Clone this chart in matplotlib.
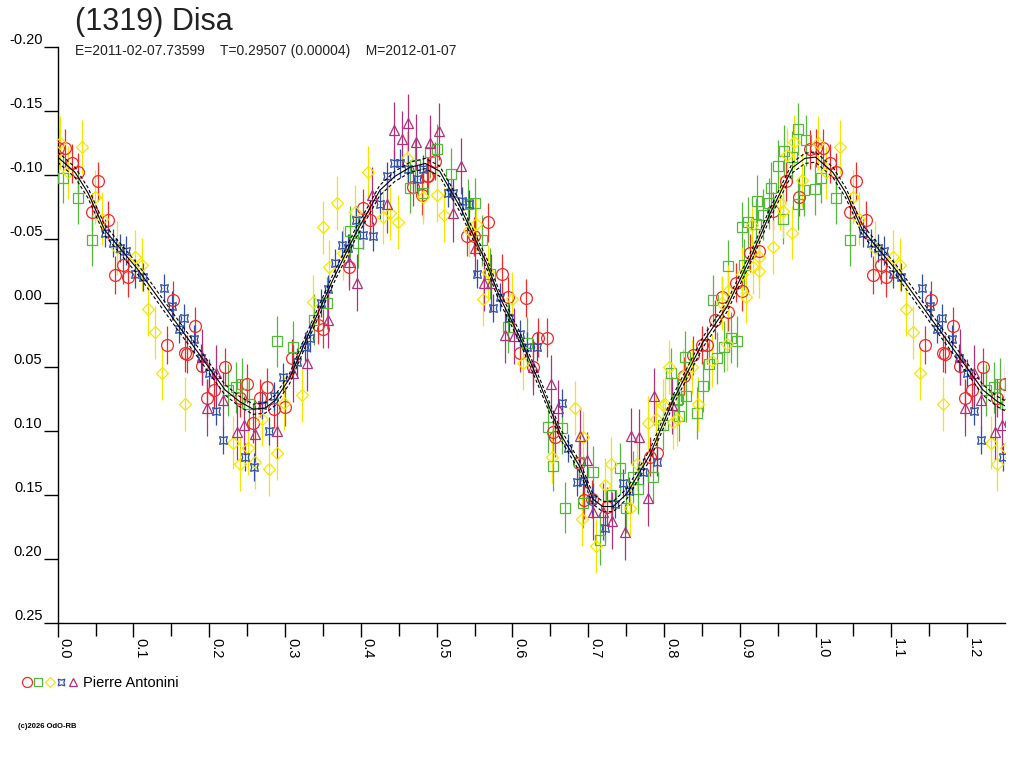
import numpy as np
import matplotlib
matplotlib.use("Agg")
import matplotlib.pyplot as plt
from matplotlib.legend_handler import HandlerTuple

plt.rcParams['font.family'] = ['Liberation Sans', 'DejaVu Sans']
plt.rcParams['axes.unicode_minus'] = False

# ---- data (phase, reduced magnitude) ----
red_phase = [0.000, 0.010, 0.019, 0.027, 0.053, 0.045, 0.066, 0.076, 0.086, 0.093, 0.152, 0.144, 0.168,
             0.181, 0.171, 0.190, 0.221, 0.206, 0.197, 0.240, 0.250, 0.267, 0.276, 0.285, 0.300, 0.258, 0.309,
             0.403, 0.412, 0.384, 0.469, 0.481, 0.487, 0.350, 0.343,
             0.498, 0.489, 0.568, 0.540, 0.549, 0.586, 0.618, 0.594, 0.634, 0.646, 0.610, 0.627,
             0.653, 0.656, 0.688, 0.694, 0.705, 0.725, 0.781, 0.791,
             0.993, 0.961, 0.978, 0.944, 0.925, 0.913, 0.895, 0.903, 0.876, 0.884, 0.867, 0.850, 0.857, 0.838, 0.826]
red_mag = [-0.121, -0.121, -0.109, -0.102, -0.095, -0.071, -0.065, -0.022, -0.030, -0.020, -0.002, 0.033, 0.039,
           0.018, 0.040, 0.049, 0.050, 0.068, 0.074, 0.074, 0.063, 0.074, 0.066, 0.083, 0.081, 0.094, 0.043,
           -0.074, -0.065, -0.028, -0.091, -0.084, -0.099, 0.020, 0.017,
           -0.111, -0.099, -0.063, -0.052, -0.052, -0.023, -0.004, -0.005, 0.027, 0.027, 0.039, 0.050,
           0.101, 0.105, 0.125, 0.154, 0.153, 0.159, 0.120, 0.117,
           -0.120, -0.095, -0.083, -0.072, -0.041, -0.039, -0.016, -0.009, -0.005, 0.007, 0.013, 0.033, 0.033, 0.041, 0.057]

green_phase = [0.007, 0.027, 0.045,
               0.225, 0.235, 0.243, 0.253, 0.289, 0.310,
               0.386, 0.465, 0.471, 0.491, 0.355, 0.338, 0.396,
               0.500, 0.519, 0.482, 0.550, 0.541, 0.560, 0.570, 0.594, 0.619,
               0.647, 0.665, 0.653, 0.670, 0.688, 0.706, 0.693, 0.715, 0.742, 0.730, 0.750, 0.759, 0.766,
               0.785, 0.799, 0.809, 0.817,
               0.977, 0.987, 0.958, 0.950, 0.969, 0.941, 0.999, 0.923, 0.977, 0.938, 0.931, 0.957, 0.903,
               0.911, 0.921, 0.905, 0.884, 0.865, 0.888, 0.897, 0.879, 0.870, 0.860, 0.828, 0.851, 0.829,
               0.818, 0.820, 0.843, 0.985]
green_mag = [-0.098, -0.082, -0.049,
             0.068, 0.066, 0.063, 0.079, 0.030, 0.034,
             -0.056, -0.090, -0.108, -0.118, 0.000, 0.013, -0.047,
             -0.120, -0.101, -0.086, -0.078, -0.077, -0.049, -0.023, 0.019, 0.031,
             0.097, 0.098, 0.127, 0.160, 0.124, 0.132, 0.156, 0.185, 0.129, 0.150, 0.160, 0.136, 0.145,
             0.136, 0.095, 0.055, 0.076,
             -0.136, -0.127, -0.119, -0.107, -0.114, -0.090, -0.089, -0.080, -0.077, -0.078, -0.069, -0.066, -0.059,
             -0.063, -0.062, -0.030, -0.029, -0.002, 0.027, 0.030, 0.034, 0.043, 0.048, 0.042, 0.065, 0.073,
             0.075, 0.088, 0.086, -0.088]

yellow_phase = [0.003, 0.032, 0.014, 0.049, 0.058, 0.078, 0.102, 0.111, 0.119, 0.128, 0.138, 0.168,
                0.231, 0.251, 0.240, 0.260, 0.279, 0.289, 0.270, 0.298, 0.322,
                0.409, 0.368, 0.350, 0.392, 0.439, 0.449, 0.461, 0.429, 0.358, 0.376, 0.337, 0.482,
                0.500, 0.510, 0.543, 0.552, 0.568, 0.561, 0.599, 0.614,
                0.652, 0.682, 0.693, 0.692, 0.710, 0.722, 0.730, 0.755, 0.764, 0.779, 0.789, 0.806, 0.799, 0.817,
                0.971, 0.962, 0.982, 0.953, 0.957, 0.916, 0.969, 0.944, 0.925, 0.917, 0.926, 0.903, 0.908,
                0.884, 0.876, 0.883, 0.863, 0.837, 0.825, 0.845, 0.801, 0.812]
yellow_mag = [-0.125, -0.122, -0.102, -0.083, -0.066, -0.043, -0.036, -0.030, 0.005, 0.023, 0.055, 0.079,
              0.109, 0.113, 0.126, 0.124, 0.130, 0.117, 0.091, 0.078, 0.072,
              -0.102, -0.078, -0.059, -0.071, -0.070, -0.063, -0.113, -0.067, -0.028, -0.039, -0.001, -0.083,
              -0.084, -0.069, -0.057, -0.062, -0.024, -0.003, -0.003, 0.047,
              0.120, 0.082, 0.105, 0.169, 0.190, 0.142, 0.126, 0.160, 0.126, 0.094, 0.091, 0.050, 0.080, 0.091,
              -0.126, -0.116, -0.096, -0.078, -0.072, -0.061, -0.055, -0.044, -0.036, -0.028, -0.025, -0.023, -0.005,
              -0.009, 0.000, 0.032, 0.045, 0.050, 0.057, 0.079, 0.079, 0.093]

blue_phase = [0.063, 0.073, 0.082, 0.090, 0.102, 0.113, 0.140, 0.151, 0.160, 0.167,
              0.180, 0.189, 0.200, 0.209, 0.218, 0.247, 0.259, 0.270, 0.279, 0.285, 0.297, 0.316, 0.326,
              0.444, 0.452, 0.434, 0.425, 0.394, 0.403, 0.416, 0.375, 0.383, 0.366, 0.357, 0.347, 0.333,
              0.482, 0.462, 0.474,
              0.515, 0.521, 0.533, 0.543, 0.553, 0.583, 0.575, 0.595, 0.610, 0.619, 0.632,
              0.665, 0.673, 0.685, 0.693, 0.705, 0.722, 0.735, 0.746, 0.754, 0.772, 0.791]
blue_mag = [-0.055, -0.047, -0.043, -0.041, -0.023, -0.020, -0.012, 0.002, 0.020, 0.012,
            0.028, 0.043, 0.055, 0.084, 0.107, 0.120, 0.128, 0.080, 0.100, 0.073, 0.058, 0.046, 0.034,
            -0.109, -0.109, -0.099, -0.077, -0.065, -0.053, -0.052, -0.045, -0.043, -0.031, -0.011, 0.000, 0.027,
            -0.105, -0.105, -0.097,
            -0.086, -0.086, -0.080, -0.077, -0.023, -0.005, 0.004, 0.012, 0.024, 0.034, 0.034,
            0.078, 0.113, 0.140, 0.139, 0.154, 0.176, 0.157, 0.141, 0.147, 0.132, 0.124]

purple_phase = [0.190, 0.197, 0.209, 0.218, 0.237, 0.246, 0.260, 0.289, 0.310, 0.329,
                0.444, 0.462, 0.454, 0.473, 0.491, 0.415, 0.434, 0.384, 0.395, 0.357,
                0.503, 0.532, 0.521, 0.551, 0.563, 0.572, 0.590, 0.602, 0.627, 0.651,
                0.660, 0.689, 0.698, 0.706, 0.719, 0.731, 0.748, 0.757, 0.767, 0.779, 0.787, 0.811]
purple_mag = [0.042, 0.082, 0.055, 0.076, 0.101, 0.095, 0.102, 0.100, 0.055, 0.047,
              -0.135, -0.141, -0.128, -0.126, -0.125, -0.084, -0.077, -0.032, -0.016, 0.013,
              -0.134, -0.107, -0.070, -0.043, -0.016, -0.016, 0.025, 0.026, 0.050, 0.063,
              0.082, 0.104, 0.123, 0.163, 0.163, 0.170, 0.179, 0.104, 0.105, 0.152, 0.073, 0.080]

# typical error bar half-lengths per session
red_err, green_err, yellow_err, blue_err, purple_err = 0.015, 0.020, 0.021, 0.011, 0.022

# Fourier fit, with its uncertainty band
fit_phase = [0.000, 0.023, 0.040, 0.062, 0.106, 0.151, 0.188, 0.221, 0.240, 0.258, 0.274, 0.287, 0.306,
             0.329, 0.363, 0.392, 0.425, 0.445, 0.465, 0.485, 0.504, 0.531, 0.566, 0.583, 0.610, 0.636,
             0.663, 0.689, 0.706, 0.719, 0.733, 0.751, 0.781, 0.812, 0.851, 0.883, 0.917, 0.940, 0.970, 0.986]
fit_mag = [-0.114, -0.102, -0.086, -0.057, -0.026, 0.011, 0.041, 0.068, 0.077, 0.083, 0.082, 0.076, 0.059,
           0.027, -0.018, -0.053, -0.088, -0.099, -0.106, -0.109, -0.103, -0.075, -0.031, -0.005, 0.027, 0.063,
           0.102, 0.128, 0.153, 0.159, 0.159, 0.149, 0.119, 0.076, 0.031, 0.003, -0.039, -0.070, -0.106, -0.113]
fit_band = 0.004

title = "(1319) Disa"
subtitle = "E=2011-02-07.73599    T=0.29507 (0.00004)    M=2012-01-07"
observer = "Pierre Antonini"
xtick_vals = [0.0, 0.1, 0.2, 0.3, 0.4, 0.5, 0.6, 0.7, 0.8, 0.9, 1.0, 1.1, 1.2]
ytick_vals = [-0.20, -0.15, -0.10, -0.05, 0.00, 0.05, 0.10, 0.15, 0.20, 0.25]


def wrap(ph, mg, upto=0.26):
    # the chart repeats the start of the cycle beyond phase 1
    ph = np.asarray(ph)
    mg = np.asarray(mg)
    m = ph < upto
    return np.concatenate([ph, ph[m] + 1]), np.concatenate([mg, mg[m]])


fig = plt.figure(figsize=(10.24, 7.68), dpi=100)
ax = fig.add_axes([57.7 / 1024, 1 - 623 / 768, (1005 - 57.7) / 1024, (623 - 47) / 768])

series = [
    (red_phase, red_mag, red_err, '#f02828', 'o', 8.5),
    (green_phase, green_mag, green_err, '#55b83c', 's', 6.5),
    (yellow_phase, yellow_mag, yellow_err, '#f5e600', 'D', 6.0),
    (blue_phase, blue_mag, blue_err, '#2e4ea8', (4, 1, 45), 8.0),
    (purple_phase, purple_mag, purple_err, '#b0307a', '^', 7.5),
]

handles = []
for ph, mg, err, col, mk, ms in series:
    x, y = wrap(ph, mg)
    ax.errorbar(x, y, yerr=err, fmt='none', ecolor=col, elinewidth=0.9, zorder=2)
    h, = ax.plot(x, y, ls='none', marker=mk, ms=ms, mfc='none', mec=col, mew=0.9, zorder=3)
    handles.append(h)

fx, fy = wrap(fit_phase, fit_mag, upto=0.3)
ax.plot(fx, fy, color='black', lw=0.8, zorder=5)
ax.plot(fx, fy - fit_band, color='black', lw=0.8, ls=(0, (3, 2)), zorder=5)
ax.plot(fx, fy + fit_band, color='black', lw=0.8, ls=(0, (3, 2)), zorder=5)

ax.set_xlim(0, 1.25)
ax.set_ylim(0.25, -0.20)
ax.spines['top'].set_visible(False)
ax.spines['right'].set_visible(False)
ax.spines['left'].set_linewidth(1.0)
ax.spines['bottom'].set_linewidth(1.0)

ax.set_xticks(xtick_vals)
ax.set_xticks(np.arange(0.05, 1.25, 0.1), minor=True)
ax.set_xticklabels(['%.1f' % v for v in xtick_vals])
ax.set_yticks(ytick_vals)
ax.set_yticklabels(['%.2f' % v for v in ytick_vals])
ax.tick_params(axis='x', which='major', direction='out', length=10, width=1, pad=1, labelsize=10.5, colors='black')
ax.tick_params(axis='x', which='minor', direction='out', length=9, width=1)
ax.tick_params(axis='y', direction='out', length=10, width=1, pad=1, labelsize=10.5)
for lab in ax.get_xticklabels():
    lab.set_rotation(-90)
    lab.set_ha('left')
    lab.set_va('top')
for lab in ax.get_yticklabels():
    lab.set_va('bottom')

fig.text(75 / 1024, 1 - 30 / 768, title, fontsize=22, va='baseline', color='#222222')
fig.text(75 / 1024, 1 - 55 / 768, subtitle, fontsize=10, va='baseline', color='#222222')

fig.legend([tuple(handles)], [observer], handler_map={tuple: HandlerTuple(ndivide=None, pad=0.05)},
           loc='center left', bbox_to_anchor=(14 / 1024, 1 - 683 / 768), frameon=False,
           handlelength=3.9, handletextpad=0.35, borderpad=0, fontsize=10.5, markerscale=0.85)

fig.text(18 / 1024, 1 - 728 / 768, "(c)2026 OdO-RB", fontsize=5.5, va='baseline', weight='bold')

fig.savefig("out.png", dpi=100)
